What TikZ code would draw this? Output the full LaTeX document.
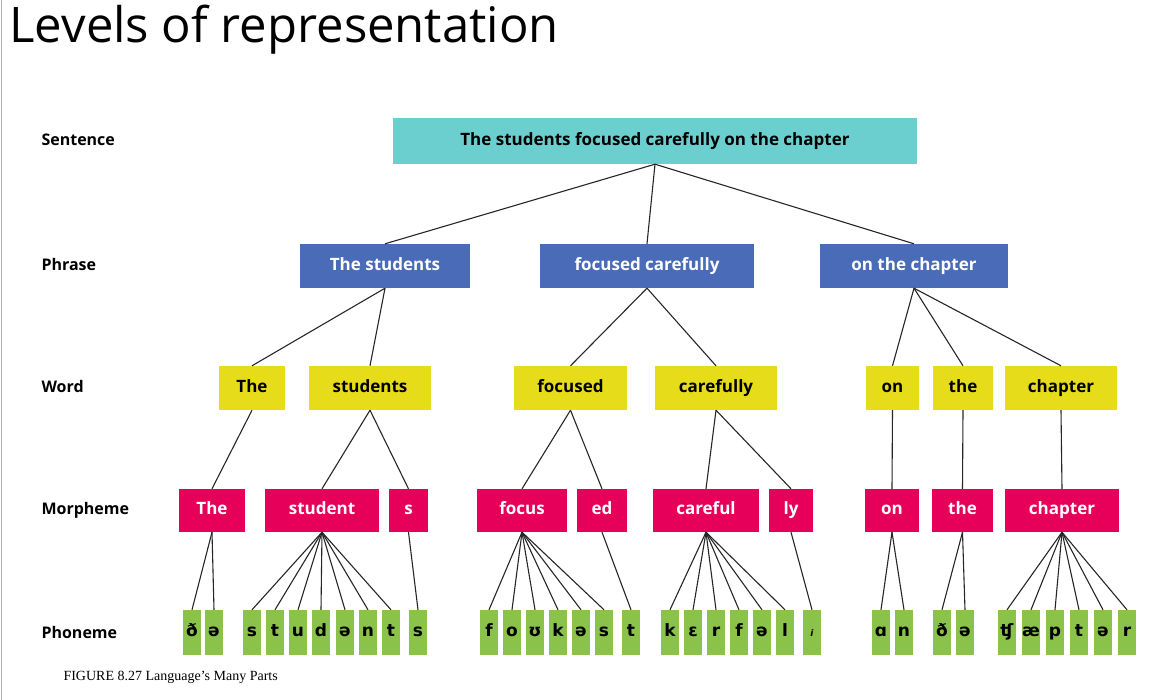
\documentclass[tikz,border=0pt]{standalone}
\usepackage{fontspec}
\setmainfont{Open Sans}
\newfontfamily\ipafont{DejaVu Sans}[BoldFont={DejaVu Sans Bold}]
\newfontfamily\titlefont{Open Sans}
\newfontfamily\capfont{Liberation Serif}
\definecolor{teal}{HTML}{6CCFCF}
\definecolor{phr}{HTML}{4A6BB8}
\definecolor{wrd}{HTML}{E6DC1A}
\definecolor{mor}{HTML}{E6005A}
\definecolor{pho}{HTML}{8BC34A}
\begin{document}
\begin{tikzpicture}[x=1pt,y=-1pt,
  box/.style={inner sep=0pt,text height=12pt,text depth=3.5pt,font=\fontsize{17}{20}\selectfont\bfseries},
  sent/.style={box,fill=teal,text=black},
  phr/.style={box,fill=phr,text=white},
  wrd/.style={box,fill=wrd,text=black},
  mor/.style={box,fill=mor,text=white},
  pho/.style={box,fill=pho,text=black,minimum width=18,minimum height=45,font=\ipafont\fontsize{17}{20}\selectfont\bfseries},
  lab/.style={anchor=west,font=\fontsize{16}{20}\selectfont\bfseries},
  edge/.style={draw=black!85,line width=1.1pt}]
\useasboundingbox (0,0) rectangle (1176,700);
\draw[black!30] (1,0) -- (1,700);
\node[anchor=west,font=\titlefont\fontsize{49}{56}\selectfont] at (6,30) {Levels of representation};
\node[lab] at (38,140) {Sentence};
\node[lab] at (38,265) {Phrase};
\node[lab] at (38,387) {Word};
\node[lab] at (38,510) {Morpheme};
\node[lab] at (38,632) {Phoneme};
\node[anchor=west,font=\capfont\fontsize{14}{16}\selectfont] at (60,677) {FIGURE 8.27 Language’s Many Parts};
\newcommand{\bx}[6]{\node[#1,minimum width=#4-#3,minimum height=#6-#5] (#2) at ({(#3+#4)/2},{(#5+#6)/2})}
\bx{sent}{S}{393}{917}{118}{164} {The students focused carefully on the chapter};
\bx{phr}{P1}{300}{470}{244}{288} {The students};
\bx{phr}{P2}{540}{754}{244}{288} {focused carefully};
\bx{phr}{P3}{820}{1008}{244}{288} {on the chapter};
\bx{wrd}{W1}{219}{285}{366}{410} {The};
\bx{wrd}{W2}{309}{431}{366}{410} {students};
\bx{wrd}{W3}{514}{627}{366}{410} {focused};
\bx{wrd}{W4}{655}{777}{366}{410} {carefully};
\bx{wrd}{W5}{866}{919}{366}{410} {on};
\bx{wrd}{W6}{933}{993}{366}{410} {the};
\bx{wrd}{W7}{1005}{1117}{366}{410} {chapter};
\bx{mor}{M1}{179}{245}{489}{532} {The};
\bx{mor}{M2}{265}{379}{489}{532} {student};
\bx{mor}{M3}{389}{428}{489}{532} {s};
\bx{mor}{M4}{477}{567}{489}{532} {focus};
\bx{mor}{M5}{577}{627}{489}{532} {ed};
\bx{mor}{M6}{653}{759}{489}{532} {careful};
\bx{mor}{M7}{769}{813}{489}{532} {ly};
\bx{mor}{M8}{865}{919}{489}{532} {on};
\bx{mor}{M9}{932}{993}{489}{532} {the};
\bx{mor}{M10}{1005}{1119}{489}{532} {chapter};
\foreach \p in {P1,P2,P3} \draw[edge] (S.south) -- (\p.north);
\draw[edge] (P1.south) -- (W1.north); \draw[edge] (P1.south) -- (W2.north);
\draw[edge] (P2.south) -- (W3.north); \draw[edge] (P2.south) -- (W4.north);
\foreach \w in {W5,W6,W7} \draw[edge] (P3.south) -- (\w.north);
\draw[edge] (W1.south) -- (M1.north);
\draw[edge] (W2.south) -- (M2.north); \draw[edge] (W2.south) -- (M3.north);
\draw[edge] (W3.south) -- (M4.north); \draw[edge] (W3.south) -- (M5.north);
\draw[edge] (W4.south) -- (M6.north); \draw[edge] (W4.south) -- (M7.north);
\draw[edge] (W5.south) -- (M8.north);
\draw[edge] (W6.south) -- (M9.north);
\draw[edge] (W7.south) -- (M10.north);
\foreach \m/\x/\c [count=\i] in {
 M1/192/ð, M1/214/ə,
 M2/252/s, M2/275/t, M2/298/u, M2/321/d, M2/345/ə, M2/368/n, M2/391/t,
 M3/418/s,
 M4/489/f, M4/512/o, M4/535/ʊ, M4/558/k, M4/581/ə, M4/604/s,
 M5/631/t,
 M6/670/k, M6/693/ɛ, M6/716/r, M6/739/f, M6/762/ə, M6/785/l,
 M7/812/{\itshape\small i},
 M8/881/ɑ, M8/904/n,
 M9/942/ð, M9/965/ə,
 M10/1007/ʧ, M10/1031/æ, M10/1055/p, M10/1079/t, M10/1103/ə, M10/1127/r}
 {\node[pho] (F\i) at (\x,632.5) {\c};
  \draw[edge] (\m.south) -- (F\i.north);}
\end{tikzpicture}
\end{document}
